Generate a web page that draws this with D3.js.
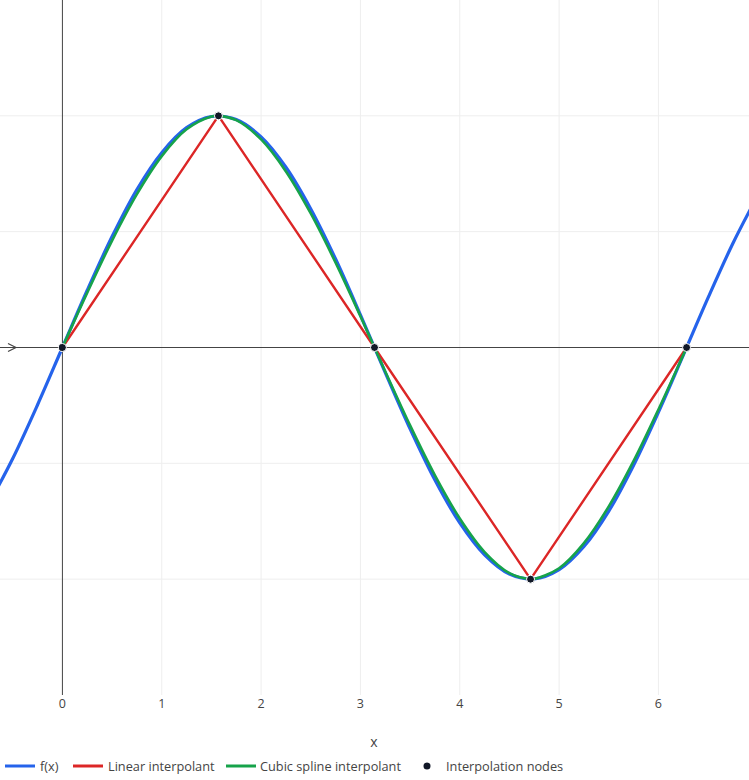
<!DOCTYPE html>
<html><head><meta charset="utf-8">
<script src="https://cdn.jsdelivr.net/npm/d3@7"></script>
<style>body{margin:0;background:#fff}svg{display:block}text{font-family:"Open Sans","DejaVu Sans",sans-serif;fill:#444}</style>
</head><body><svg id="c" width="749" height="780"></svg>
<script>
// f(x) = sin(x) samples
const fX = [-0.75,-0.5,-0.25,0,0.25,0.5,0.75,1,1.25,1.5,1.75,2,2.25,2.5,2.75,3,3.25,3.5,3.75,4,4.25,4.5,4.75,5,5.25,5.5,5.75,6,6.25,6.5,6.75,7];
const fY = [-0.682,-0.479,-0.247,0,0.247,0.479,0.682,0.841,0.949,0.997,0.984,0.909,0.778,0.598,0.382,0.141,-0.108,-0.351,-0.572,-0.757,-0.895,-0.978,-0.999,-0.959,-0.859,-0.706,-0.508,-0.279,-0.033,0.215,0.450,0.657];
// cubic spline samples
const sX = [0,0.25,0.5,0.75,1,1.25,1.5,1.5708,1.75,2,2.25,2.5,2.75,3,3.1416,3.25,3.5,3.75,4,4.25,4.5,4.7124,4.75,5,5.25,5.5,5.75,6,6.25,6.2832];
const sY = [0,0.2367,0.4613,0.6618,0.8259,0.9417,0.9970,1,0.9812,0.8982,0.7600,0.5786,0.3662,0.1349,0,-0.1034,-0.3363,-0.5519,-0.7381,-0.8828,-0.9738,-1,-0.9991,-0.9528,-0.8443,-0.6859,-0.4896,-0.2675,-0.0317,0];
// interpolation nodes
const nodeX = [0,1.5708,3.1416,4.7124,6.2832];
const nodeY = [0,1,0,-1,0];
const xTicks = [0,1,2,3,4,5,6];
const yGrid = [-1,-0.5,0.5,1];
const legendItems = ["f(x)","Linear interpolant","Cubic spline interpolant","Interpolation nodes"];

const svg = d3.select("#c");
const W=749, pTop=0, pBottom=695;
const x = d3.scaleLinear().domain([-0.2*Math.PI, 2.2*Math.PI]).range([0, W]);
const y = d3.scaleLinear().domain([-1.5, 1.5]).range([pBottom, pTop]);

// grid
svg.append("g").selectAll("line").data(xTicks.filter(d=>d!==0)).join("line")
  .attr("x1",d=>x(d)).attr("x2",d=>x(d)).attr("y1",pTop).attr("y2",pBottom)
  .attr("stroke","#eee").attr("stroke-width",1);
svg.append("g").selectAll("line").data(yGrid).join("line")
  .attr("x1",0).attr("x2",W).attr("y1",d=>y(d)).attr("y2",d=>y(d))
  .attr("stroke","#eee").attr("stroke-width",1);
// zero lines
svg.append("line").attr("x1",0).attr("x2",W).attr("y1",y(0)).attr("y2",y(0)).attr("stroke","#444").attr("stroke-width",1);
svg.append("line").attr("x1",x(0)).attr("x2",x(0)).attr("y1",pTop).attr("y2",pBottom).attr("stroke","#444").attr("stroke-width",1);
// arrowhead
svg.append("path").attr("d",`M8,${y(0)-4}L16,${y(0)}L8,${y(0)+4}`).attr("fill","none").attr("stroke","#444").attr("stroke-width",1.2);

svg.append("clipPath").attr("id","pc").append("rect").attr("x",0).attr("y",pTop).attr("width",W).attr("height",pBottom-pTop);
const plot = svg.append("g").attr("clip-path","url(#pc)");
const line = d3.line().x(d=>x(d[0])).y(d=>y(d[1])).curve(d3.curveCatmullRom.alpha(0.5));
plot.append("path").datum(fX.map((v,i)=>[v,fY[i]])).attr("d",line).attr("fill","none").attr("stroke","#2563eb").attr("stroke-width",3.2);
plot.append("path").datum(nodeX.map((v,i)=>[v,nodeY[i]])).attr("d",d3.line().x(d=>x(d[0])).y(d=>y(d[1]))).attr("fill","none").attr("stroke","#dc2626").attr("stroke-width",2.4);
plot.append("path").datum(sX.map((v,i)=>[v,sY[i]])).attr("d",line).attr("fill","none").attr("stroke","#16a34a").attr("stroke-width",2.6);
plot.append("g").selectAll("circle").data(nodeX.map((v,i)=>[v,nodeY[i]])).join("circle")
  .attr("cx",d=>x(d[0])).attr("cy",d=>y(d[1])).attr("r",4).attr("fill","#111827").attr("stroke","#fff").attr("stroke-width",1);

// x tick labels
svg.append("g").selectAll("text").data(xTicks).join("text")
  .attr("x",d=>x(d)).attr("y",708).attr("text-anchor","middle").attr("font-size",12.5).text(d=>d);
svg.append("text").attr("x",374).attr("y",747).attr("text-anchor","middle").attr("font-size",14).text("x");

// legend
const lg = svg.append("g");
const ly = 766;
const lineItems = [{x0:5,tx:40,c:"#2563eb"},{x0:73,tx:108,c:"#dc2626"},{x0:217,tx:260,c:"#16a34a"}];
lineItems.forEach((it,i)=>{
  lg.append("line").attr("x1",it.x0+(i==2?9:0)).attr("x2",it.x0+30+(i==2?9:0)).attr("y1",ly).attr("y2",ly).attr("stroke",it.c).attr("stroke-width",3);
  lg.append("text").attr("x",it.tx).attr("y",ly+4.5).attr("font-size",12.75).text(legendItems[i]);
});
lg.append("circle").attr("cx",427).attr("cy",ly).attr("r",3.5).attr("fill","#111827");
lg.append("text").attr("x",446).attr("y",ly+4.5).attr("font-size",12.75).text(legendItems[3]);
</script></body></html>
